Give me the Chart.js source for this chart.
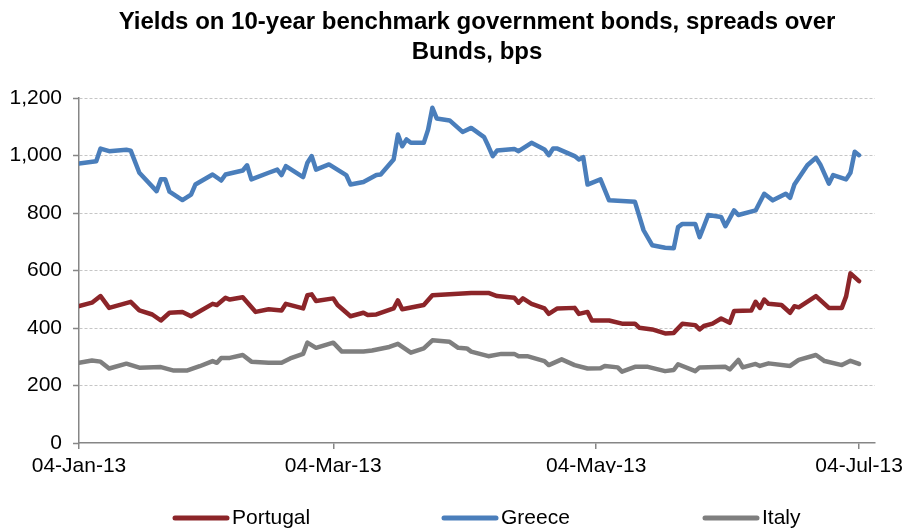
<!DOCTYPE html>
<html>
<head>
<meta charset="utf-8">
<script src="https://cdn.jsdelivr.net/npm/chart.js@4.4.1/dist/chart.umd.min.js"></script>
<style>
  html, body { margin: 0; padding: 0; background: #fff; }
  #wrap { width: 902px; height: 528px; }
</style>
</head>
<body>
<div id="wrap"><canvas id="spreadChart" width="902" height="528"></canvas></div>
<script>
// x positions are days counted from 04-Jan-13
const tickDays = [0, 59, 120, 181];
const tickLabels = ['04-Jan-13', '04-Mar-13', '04-May-13', '04-Jul-13'];

const portugalDays = [0,3,5,7,12,14,17,19,21,24,26,31,32,34,35,38,41,44,47,48,52,53,54,55,59,60,63,66,67,69,73,74,75,80,82,88,91,95,97,101,102,103,105,108,109,111,115,116,118,119,123,126,129,130,133,136,138,140,143,144,145,147,149,151,152,156,157,158,159,160,163,165,166,167,171,174,177,178,179,181];
const portugalBps = [476,488,511,470,491,461,447,426,453,456,441,484,480,505,499,507,456,465,461,484,468,514,517,494,503,480,441,453,445,447,468,496,465,480,514,519,522,522,511,505,488,503,484,468,449,468,470,449,456,426,426,415,415,401,395,381,383,415,410,395,407,415,433,418,459,461,491,470,499,484,480,453,476,472,511,470,470,510,590,563];

const greeceDays = [0,4,5,7,11,12,14,18,19,20,21,24,26,27,31,33,34,38,39,40,44,46,47,48,52,53,54,55,58,62,63,66,69,70,73,74,75,76,77,80,81,82,83,86,89,91,94,95,96,97,101,102,105,108,109,110,111,115,116,117,118,121,123,129,131,133,136,138,139,140,143,144,145,146,149,150,152,153,157,159,161,164,165,166,169,171,172,174,175,178,179,180,181];
const greeceBps = [972,980,1024,1015,1020,1017,940,876,917,917,874,845,864,899,934,913,934,948,966,917,940,951,932,963,925,975,998,951,969,932,899,908,932,934,986,1073,1032,1056,1044,1044,1090,1166,1129,1122,1082,1096,1064,1032,998,1017,1023,1015,1044,1021,1001,1024,1024,998,986,994,899,917,844,839,740,688,679,677,751,762,762,716,754,793,786,754,809,793,809,867,844,867,853,899,966,992,969,902,932,917,940,1013,1001];

const italyDays = [0,3,5,7,11,14,19,22,25,28,31,32,33,35,38,40,44,47,49,52,53,55,59,61,66,68,72,74,77,80,82,86,88,90,91,95,98,101,102,104,108,109,112,115,118,121,122,125,126,129,132,136,138,139,143,144,150,151,153,154,157,158,160,165,167,171,173,177,179,181];
const italyBps = [279,287,283,259,276,262,264,252,252,267,285,279,296,296,306,283,279,279,294,310,349,331,349,318,318,322,334,345,314,329,357,352,331,329,318,302,310,310,302,302,285,271,291,271,259,260,268,263,248,265,265,250,254,274,250,263,265,256,289,263,275,268,277,268,289,306,285,271,286,275];

const seriesNames = ['Portugal', 'Greece', 'Italy'];
const seriesColors = ['#8C2529', '#4A7EBB', '#7F7F7F'];

function toPoints(days, vals) {
    return days.map((d, i) => ({ x: d, y: vals[i] }));
}

Chart.defaults.font.family = '"Liberation Sans", Arial, sans-serif';
Chart.defaults.color = '#000';

// legend drawn as one spread-out row under the axis labels
const legendRow = {
    id: 'legendRow',
    afterDraw(chart) {
        const ctx = chart.ctx;
        const starts = [175, 444, 705];
        const y = 518;
        ctx.save();
        ctx.font = '21px "Liberation Sans", Arial, sans-serif';
        ctx.textBaseline = 'middle';
        ctx.textAlign = 'left';
        chart.data.datasets.forEach((ds, i) => {
            const x = starts[i];
            ctx.strokeStyle = ds.borderColor;
            ctx.lineWidth = 5;
            ctx.lineCap = 'round';
            ctx.beginPath();
            ctx.moveTo(x, y);
            ctx.lineTo(x + 52, y);
            ctx.stroke();
            ctx.fillStyle = '#000';
            ctx.fillText(ds.label, x + 57, y);
        });
        ctx.restore();
    }
};

const ctx = document.getElementById('spreadChart').getContext('2d');

const spreadChart = new Chart(ctx, {
    type: 'line',
    data: {
        datasets: [
            { label: seriesNames[0], data: toPoints(portugalDays, portugalBps), borderColor: seriesColors[0] },
            { label: seriesNames[1], data: toPoints(greeceDays, greeceBps), borderColor: seriesColors[1] },
            { label: seriesNames[2], data: toPoints(italyDays, italyBps), borderColor: seriesColors[2] }
        ]
    },
    options: {
        responsive: false,
        animation: false,
        layout: { padding: { left: 0, right: 27, top: 0, bottom: 55 } },
        elements: {
            line: { borderWidth: 4.5, tension: 0, borderJoinStyle: 'round', borderCapStyle: 'round' },
            point: { radius: 0 }
        },
        scales: {
            x: {
                type: 'linear',
                min: 0,
                max: 184.7,
                afterBuildTicks: (axis) => {
                    axis.ticks = tickDays.map(v => ({ value: v }));
                },
                afterFit: (axis) => {
                    axis.height = 30;
                    axis.paddingLeft = 0;
                    axis.paddingRight = 0;
                },
                grid: { drawOnChartArea: false, tickLength: 6, tickColor: '#868686', lineWidth: 1.5 },
                border: { color: '#868686', width: 1.5 },
                ticks: {
                    autoSkip: false,
                    maxRotation: 0,
                    padding: 5,
                    font: { size: 21 },
                    callback: (v) => tickLabels[tickDays.indexOf(v)]
                }
            },
            y: {
                min: 0,
                max: 1200,
                afterFit: (axis) => {
                    axis.width = 79;
                    axis.paddingTop = 0;
                    axis.paddingBottom = 0;
                },
                grid: {
                    color: (c) => (c.tick && c.tick.value === 0) ? 'rgba(0,0,0,0)' : '#C6C6C6',
                    lineWidth: 1,
                    tickLength: 6,
                    tickColor: '#868686',
                    tickWidth: 1.5
                },
                border: { color: '#868686', width: 1.5, dash: [3, 2] },
                ticks: {
                    stepSize: 200,
                    padding: 11,
                    font: { size: 21 },
                    callback: (v) => v.toLocaleString('en-US')
                }
            }
        },
        plugins: {
            legend: { display: false },
            tooltip: { enabled: false },
            title: {
                display: true,
                fullSize: false,
                text: ['Yields on 10-year benchmark government bonds, spreads over', 'Bunds, bps'],
                color: '#000',
                font: { size: 24, weight: 'bold', lineHeight: 1.25 },
                padding: { top: 7, bottom: 31 }
            }
        }
    },
    plugins: [legendRow]
});
</script>
</body>
</html>
